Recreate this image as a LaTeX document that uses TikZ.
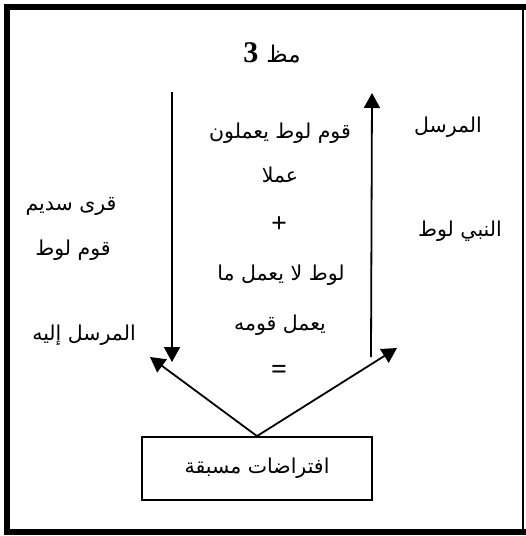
\documentclass[tikz,border=0pt]{standalone}
\usepackage{fontspec}
\setmainfont{Liberation Serif}
\newfontfamily\arabicfont[Script=Arabic]{DejaVu Sans}
\TeXXeTstate=1
\usetikzlibrary{arrows.meta,positioning}
\newcommand{\artxt}[1]{{\arabicfont\beginR #1\endR}}

\begin{document}
\begin{tikzpicture}[x=1pt, y=-1pt,
txt/.style={font=\fontsize{20.5}{24}\selectfont, inner sep=0pt},
sym/.style={font=\bfseries\fontsize{28}{30}\selectfont, inner sep=0pt},
box/.style={draw, line width=1.8pt, minimum width=230pt, minimum height=63pt, inner sep=0pt, font=\fontsize{20.5}{24}\selectfont},
arr/.style={-{Triangle[length=15pt,width=16pt]}, line width=1.8pt}
]
\useasboundingbox (0,0) rectangle (526,536);
% frame
\draw[line width=1.5pt] (6.5,6.5) -- (523,6.5) -- (523,532);
\draw[line width=6pt, line join=miter] (526,6.5) -- (6.5,6.5) -- (6.5,532) -- (526,532);
\node[sym, font=\bfseries\fontsize{30}{32}\selectfont] (title) at (272,53) {3\hspace{8pt}{\mdseries\fontsize{23}{26}\selectfont\artxt{مظ}}};
% middle column
\node[txt] (l1) at (280,133) {\artxt{قوم لوط يعملون}};
\node[txt] (l2) at (280,175) {\artxt{عملا}};
\node[sym] (plus) at (279,225) {+};
\node[txt] (l3) at (281,275) {\artxt{لوط لا يعمل ما}};
\node[txt] (l4) at (280,325) {\artxt{يعمل قومه}};
\node[sym] (eq) at (279,372) {=};
% sides
\node[txt] (qura) at (71,206) {\artxt{قرى سديم}};
\node[txt] (qawm) at (73,250) {\artxt{قوم لوط}};
\node[txt] (recv) at (84,335) {\artxt{المرسل إليه}};
\node[txt] (send) at (448,127) {\artxt{المرسل}};
\node[txt] (nabi) at (460,231) {\artxt{النبي لوط}};
% box and arrows
\node[box] (pre) at (257,468.5) {\artxt{افتراضات مسبقة}};
\coordinate (dtop) at (172,92);
\coordinate (dbot) at (172,362);
\coordinate (ubot) at (371,357);
\coordinate (utop) at (372,93);
\coordinate (ltip) at (150,357);
\coordinate (rtip) at (397,348);
\draw[arr] (dtop) -- (dbot);
\draw[arr] (ubot) -- (utop);
\draw[arr] (pre.north) -- (ltip);
\draw[arr] (pre.north) -- (rtip);
\end{tikzpicture}
\end{document}
